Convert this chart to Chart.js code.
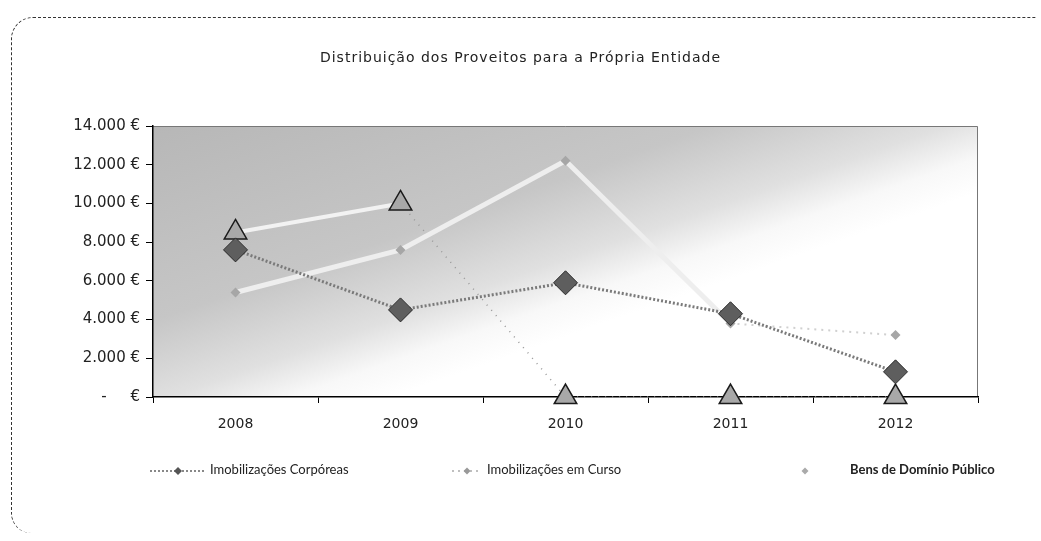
<!DOCTYPE html>
<html>
<head>
<meta charset="utf-8">
<script src="https://cdn.jsdelivr.net/npm/chart.js@4"></script>
<style>
  html, body { margin: 0; padding: 0; background: #fff; }
  #wrap { position: relative; width: 1041px; height: 541px; }
  #frame {
    position: absolute; left: 11px; top: 17px; width: 1024px; height: 515px;
    border-top: 1.5px dashed #333; border-left: 1.5px dashed #333;
    border-top-left-radius: 22px; border-bottom-left-radius: 20px;
  }
  canvas { position: absolute; left: 0; top: 0; }
  #title {
    position: absolute; left: 0; width: 1041px; top: 49px; text-align: center;
    font: 14px "DejaVu Sans"; color: #222; letter-spacing: 1px;
  }
  .leg { position: absolute; top: 459px; height: 20px; font: 13px Lato; color: #222; line-height: 20px; }
  .leg canvas { position: static; vertical-align: middle; }
</style>
</head>
<body>
<div id="wrap">
  <div id="frame"></div>
  <canvas id="myChart" width="1041" height="541"></canvas>
  <div id="title">Distribuição dos Proveitos para a Própria Entidade</div>
  <div id="legend"></div>
</div>
<script>
// Data
const years = ['2008', '2009', '2010', '2011', '2012'];
const corporeas = [7600, 4500, 5900, 4300, 1300];
const emCurso = [5400, 7600, 12200, 3800, 3200];
const bensDominio = [8500, 10000, 0, 0, 0];
const seriesNames = ['Imobilizações Corpóreas', 'Imobilizações em Curso', 'Bens de Domínio Público'];
const yTicks = [0, 2000, 4000, 6000, 8000, 10000, 12000, 14000];

// legend pictures, Excel style (line + small marker)
function legendImage(kind) {
  const c = document.createElement('canvas');
  c.width = kind === 0 ? 56 : 32; c.height = 20;
  const g = c.getContext('2d');
  function diamond(x, r, fill) {
    g.beginPath();
    g.moveTo(x, 10 - r); g.lineTo(x + r, 10); g.lineTo(x, 10 + r); g.lineTo(x - r, 10);
    g.closePath(); g.fillStyle = fill; g.fill();
  }
  if (kind === 0) {
    g.strokeStyle = '#888'; g.lineWidth = 2; g.setLineDash([2, 2]);
    g.beginPath(); g.moveTo(0, 10); g.lineTo(56, 10); g.stroke();
    diamond(28, 4, '#555');
  } else if (kind === 1) {
    g.strokeStyle = '#aaa'; g.lineWidth = 1.5; g.setLineDash([2, 4]);
    g.beginPath(); g.moveTo(0, 10); g.lineTo(30, 10); g.stroke();
    diamond(15, 3.5, '#999');
  } else {
    diamond(16, 3.5, '#aaa');
  }
  return c;
}

// html legend, spread like the original
const legendSpots = [{ img: 150, text: 210 }, { img: 452, text: 487 }, { img: 789, text: 850 }];
seriesNames.forEach((name, i) => {
  const img = legendImage(i);
  const box = document.createElement('div');
  box.className = 'leg';
  box.style.left = legendSpots[i].img + 'px';
  box.appendChild(img);
  const txt = document.createElement('div');
  txt.className = 'leg';
  txt.style.left = legendSpots[i].text + 'px';
  if (i === 2) txt.style.fontWeight = 'bold';
  txt.textContent = name;
  document.querySelector('#legend').appendChild(box);
  document.querySelector('#legend').appendChild(txt);
});

const plotBackground = {
  id: 'plotBackground',
  beforeDraw(chart) {
    const {ctx, chartArea: a} = chart;
    const grad = ctx.createLinearGradient(a.left, a.top, a.left + 110, a.bottom + 45);
    grad.addColorStop(0, '#b7b7b7');
    grad.addColorStop(0.55, '#c6c6c6');
    grad.addColorStop(0.78, '#e0e0e0');
    grad.addColorStop(0.9, '#f8f8f8');
    grad.addColorStop(1, '#ffffff');
    ctx.save();
    ctx.fillStyle = grad;
    ctx.fillRect(a.left, a.top, a.right - a.left, a.bottom - a.top);
    ctx.strokeStyle = '#777';
    ctx.lineWidth = 1;
    ctx.beginPath();
    ctx.moveTo(a.left, a.top + 0.5);
    ctx.lineTo(a.right - 0.5, a.top + 0.5);
    ctx.lineTo(a.right - 0.5, a.bottom);
    ctx.stroke();
    ctx.restore();
  }
};

const ctx = document.getElementById('myChart').getContext('2d');
const myChart = new Chart(ctx, {
  type: 'line',
  data: {
    labels: years,
    datasets: [{
      label: seriesNames[0],
      data: corporeas,
      borderColor: '#7a7a7a',
      borderWidth: 3,
      borderDash: [2, 2],
      pointStyle: 'rectRot',
      pointRadius: 12,
      pointBackgroundColor: '#5e5e5e',
      pointBorderColor: '#2a2a2a',
      pointBorderWidth: 1,
      clip: false
    }, {
      label: seriesNames[1],
      data: emCurso,
      borderColor: '#eeeeee',
      borderWidth: 5,
      segment: {
        borderColor: c => c.p0DataIndex === 3 ? '#d0d0d0' : undefined,
        borderWidth: c => c.p0DataIndex === 3 ? 2 : undefined,
        borderDash: c => c.p0DataIndex === 3 ? [2, 5] : undefined
      },
      pointStyle: 'rectRot',
      pointRadius: 5,
      pointBackgroundColor: '#a6a6a6',
      pointBorderColor: '#a6a6a6',
      pointBorderWidth: 0,
      clip: false
    }, {
      label: seriesNames[2],
      data: bensDominio,
      borderColor: '#f2f2f2',
      borderWidth: 4,
      segment: {
        borderColor: c => c.p1DataIndex >= 2 ? '#999' : undefined,
        borderWidth: c => c.p1DataIndex >= 2 ? 1.5 : undefined,
        borderDash: c => c.p1DataIndex >= 2 ? [1, 6] : undefined
      },
      pointStyle: 'triangle',
      pointRadius: 13,
      pointBackgroundColor: '#a8a8a8',
      pointBorderColor: '#1a1a1a',
      pointBorderWidth: 1.5,
      clip: false
    }]
  },
  options: {
    responsive: false,
    animation: false,
    layout: { padding: { top: 126, left: 0, right: 63, bottom: 99 } },
    plugins: {
      legend: { display: false },
      title: { display: false },
      tooltip: { enabled: false }
    },
    scales: {
      x: {
        offset: true,
        grid: { offset: true, drawOnChartArea: false, tickLength: 6, color: '#000' },
        border: { color: '#000', width: 1.5 },
        ticks: { color: '#222', padding: 13, font: { family: 'DejaVu Sans', size: 14 } },
        afterFit: scale => { scale.height = 45; }
      },
      y: {
        min: 0,
        max: 14000,
        afterBuildTicks: scale => { scale.ticks = yTicks.map(v => ({ value: v })); },
        grid: { drawOnChartArea: false, tickLength: 7, color: '#000' },
        border: { color: '#000', width: 1.5 },
        ticks: {
          color: '#222',
          padding: 6,
          font: { family: 'DejaVu Sans', size: 15 },
          callback: v => v === 0 ? '-     €' : (v / 1000) + '.000 €'
        },
        afterFit: scale => { scale.width = 153; }
      }
    }
  },
  plugins: [plotBackground]
});
</script>
</body>
</html>
